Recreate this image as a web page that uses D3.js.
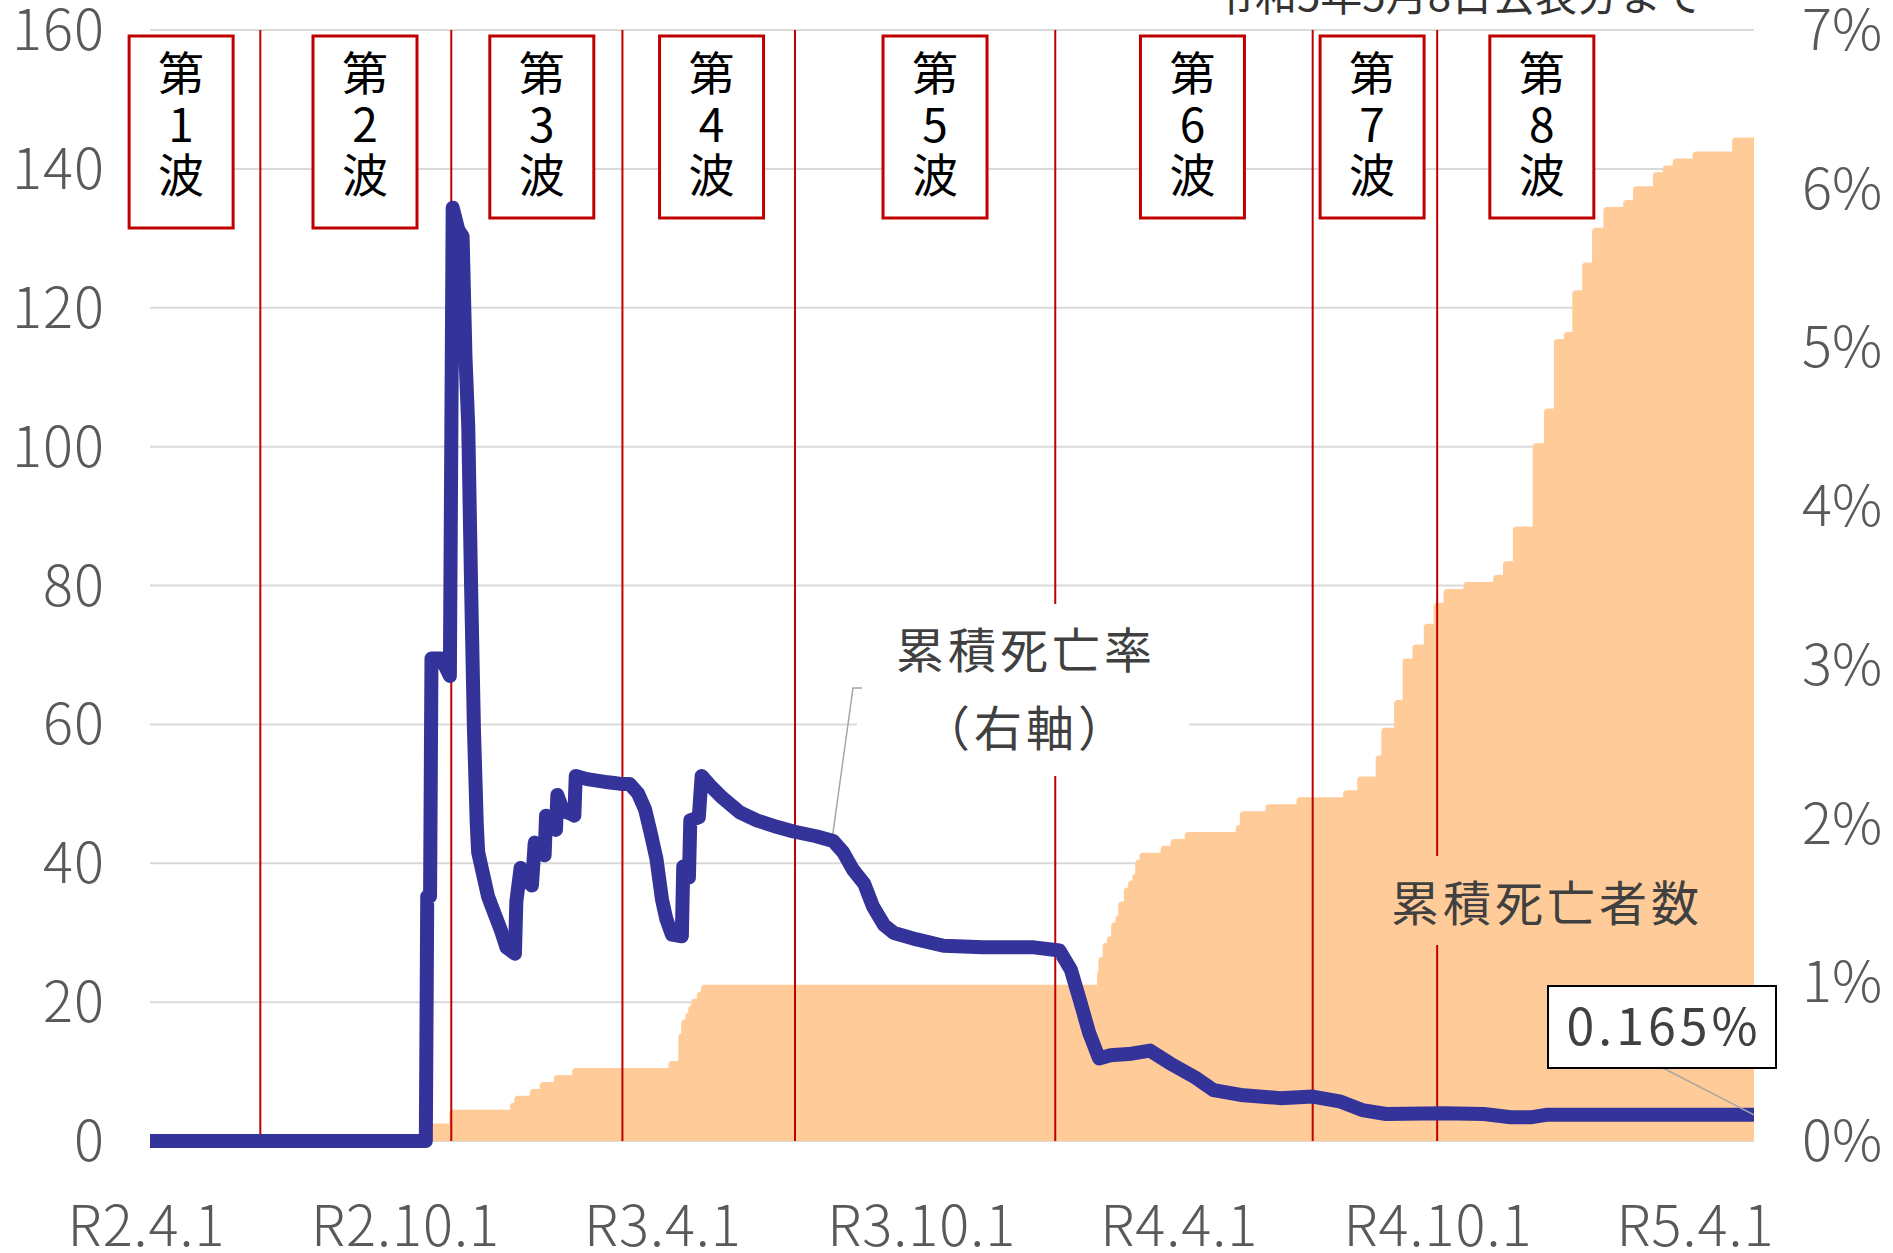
<!DOCTYPE html>
<html lang="ja">
<head>
<meta charset="utf-8">
<title>累積死亡者数と累積死亡率</title>
<script src="https://cdn.jsdelivr.net/npm/d3@7"></script>
<style>
  html, body { margin: 0; padding: 0; background: #fff; }
  svg { display: block; font-family: "Noto Sans CJK JP", "Noto Sans", sans-serif; }
</style>
</head>
<body>
<svg id="chart" width="1893" height="1253"></svg>
<script>
// Data
// 累積死亡者数 (left axis) - step changes
const deathDates = [
  "2020-04-02", "2020-10-15", "2020-11-02", "2020-12-15", "2020-12-18", "2020-12-29",
  "2021-01-05", "2021-01-15", "2021-01-28", "2021-04-06", "2021-04-13", "2021-04-15",
  "2021-04-18", "2021-04-20", "2021-04-22", "2021-04-26", "2021-04-29", "2022-02-03",
  "2022-02-04", "2022-02-07", "2022-02-10", "2022-02-13", "2022-02-16", "2022-02-18",
  "2022-02-22", "2022-02-25", "2022-02-28", "2022-03-02", "2022-03-05", "2022-03-20",
  "2022-03-27", "2022-04-06", "2022-05-12", "2022-05-15", "2022-06-02", "2022-06-24",
  "2022-07-27", "2022-08-06", "2022-08-19", "2022-08-23", "2022-09-01", "2022-09-07",
  "2022-09-14", "2022-09-22", "2022-09-29", "2022-10-06", "2022-10-20", "2022-11-10",
  "2022-11-17", "2022-11-24", "2022-12-08", "2022-12-16", "2022-12-23", "2022-12-30",
  "2023-01-05", "2023-01-12", "2023-01-19", "2023-01-27", "2023-02-10", "2023-02-17",
  "2023-03-03", "2023-03-10", "2023-03-17", "2023-03-31", "2023-04-28", "2023-05-11"
];
const deathValues = [
  0, 2, 4, 5, 6, 7,
  8, 9, 10, 11, 15, 17,
  18, 19, 20, 21, 22, 24,
  26, 28, 29, 31, 32, 34,
  36, 37, 38, 40, 41, 42,
  43, 44, 45, 47, 48, 49,
  50, 52, 55, 59, 63, 69,
  71, 74, 77, 79, 80, 81,
  83, 88, 100, 105, 115, 116,
  122, 126, 131, 134, 135, 137,
  139, 140, 141, 142, 144, 144
];

// 累積死亡率 (right axis, %)
const rateDates = [
  "2020-04-02", "2020-10-14", "2020-10-15", "2020-10-17", "2020-10-18", "2020-10-25",
  "2020-10-31", "2020-11-02", "2020-11-06", "2020-11-09", "2020-11-11", "2020-11-13",
  "2020-11-15", "2020-11-17", "2020-11-19", "2020-11-20", "2020-11-23", "2020-11-27",
  "2020-11-30", "2020-12-06", "2020-12-10", "2020-12-16", "2020-12-17", "2020-12-20",
  "2020-12-23", "2020-12-28", "2020-12-30", "2021-01-03", "2021-01-06", "2021-01-07",
  "2021-01-11", "2021-01-14", "2021-01-15", "2021-01-19", "2021-01-25", "2021-01-27",
  "2021-01-28", "2021-02-05", "2021-02-20", "2021-03-01", "2021-03-07", "2021-03-13",
  "2021-03-18", "2021-03-22", "2021-03-26", "2021-03-30", "2021-04-02", "2021-04-06",
  "2021-04-13", "2021-04-14", "2021-04-18", "2021-04-19", "2021-04-25", "2021-04-27",
  "2021-05-04", "2021-05-12", "2021-05-24", "2021-06-05", "2021-06-17", "2021-07-01",
  "2021-07-17", "2021-07-29", "2021-08-05", "2021-08-12", "2021-08-20", "2021-08-26",
  "2021-09-03", "2021-09-10", "2021-09-26", "2021-10-15", "2021-11-12", "2021-12-18",
  "2022-01-05", "2022-01-13", "2022-01-19", "2022-01-26", "2022-02-02", "2022-02-10",
  "2022-02-25", "2022-03-10", "2022-03-24", "2022-04-11", "2022-04-24", "2022-05-13",
  "2022-06-10", "2022-07-03", "2022-07-22", "2022-08-07", "2022-08-24", "2022-10-03",
  "2022-11-01", "2022-11-20", "2022-12-05", "2022-12-15", "2023-01-15", "2023-05-11"
];
const rateValues = [
  0, 0, 1.54, 1.54, 3.04, 3.04,
  2.93, 5.88, 5.74, 5.70, 4.95, 4.5,
  3.5, 2.6, 2.0, 1.82, 1.70, 1.54,
  1.47, 1.33, 1.22, 1.18, 1.51, 1.72,
  1.66, 1.61, 1.88, 1.82, 1.80, 2.05,
  1.98, 1.96, 2.18, 2.08, 2.06, 2.05,
  2.30, 2.28, 2.26, 2.25, 2.25, 2.19,
  2.09, 1.94, 1.78, 1.52, 1.40, 1.30,
  1.29, 1.73, 1.66, 2.02, 2.04, 2.30,
  2.23, 2.16, 2.07, 2.02, 1.985, 1.95,
  1.92, 1.89, 1.82, 1.71, 1.62, 1.48,
  1.36, 1.31, 1.27, 1.23, 1.22, 1.22,
  1.20, 1.08, 0.90, 0.68, 0.52, 0.54,
  0.55, 0.57, 0.49, 0.40, 0.32, 0.29,
  0.27, 0.28, 0.25, 0.195, 0.17, 0.175,
  0.17, 0.15, 0.15, 0.165, 0.165, 0.165
];

// wave boundaries (red lines) and wave label positions
const waveBoundaries = ["2020-06-19", "2020-11-01", "2021-03-02", "2021-07-02", "2022-01-02", "2022-07-03", "2022-09-29"];
const waveNumbers = ["1", "2", "3", "4", "5", "6", "7", "8"];
const waveLabelDates = ["2020-04-24", "2020-09-01", "2021-01-04", "2021-05-04", "2021-10-09", "2022-04-09", "2022-08-14", "2022-12-12"];

const xTickDates = ["2020-04-01", "2020-10-01", "2021-04-01", "2021-10-01", "2022-04-01", "2022-10-01", "2023-04-01"];
const xTickLabels = ["R2.4.1", "R2.10.1", "R3.4.1", "R3.10.1", "R4.4.1", "R4.10.1", "R5.4.1"];
const leftTicks = [0, 20, 40, 60, 80, 100, 120, 140, 160];
const rightTicks = [0, 1, 2, 3, 4, 5, 6, 7];
const lastRateLabel = "0.165%";

// Layout
const plotLeft = 150, plotRight = 1754, plotTop = 30, plotBottom = 1141;
const parse = d3.utcParse("%Y-%m-%d");
const svg = d3.select("#chart");

const x = d3.scaleUtc()
    .domain([parse("2020-04-02"), parse("2023-05-11")])
    .range([plotLeft, plotRight]);
const yL = d3.scaleLinear().domain([0, 160]).range([plotBottom, plotTop]);
const yR = d3.scaleLinear().domain([0, 7]).range([plotBottom, plotTop]);

const deaths = deathDates.map((d, i) => ({ date: parse(d), v: deathValues[i] }));
const rates = rateDates.map((d, i) => ({ date: parse(d), v: rateValues[i] }));

// gridlines
svg.append("g").selectAll("line")
    .data(leftTicks)
    .join("line")
    .attr("x1", plotLeft).attr("x2", plotRight)
    .attr("y1", d => yL(d)).attr("y2", d => yL(d))
    .attr("stroke", "#d9d9d9").attr("stroke-width", 2);

// cumulative deaths area (with same-colour border like the original)
svg.append("path")
    .datum(deaths)
    .attr("fill", "#FFCC99")
    .attr("d", d3.area().curve(d3.curveStepAfter)
        .x(d => x(d.date)).y0(yL(0)).y1(d => yL(d.v)));
svg.append("path")
    .datum(deaths.filter(d => d.v > 0))
    .attr("fill", "none")
    .attr("stroke", "#FFCC99")
    .attr("stroke-width", 7)
    .attr("stroke-linejoin", "round")
    .attr("d", d3.line().curve(d3.curveStepAfter).x(d => x(d.date)).y(d => yL(d.v)));

// wave boundary lines
svg.append("g").selectAll("line")
    .data(waveBoundaries)
    .join("line")
    .attr("x1", d => x(parse(d))).attr("x2", d => x(parse(d)))
    .attr("y1", plotTop).attr("y2", plotBottom)
    .attr("stroke", "#C00000").attr("stroke-width", 2);

// label "累積死亡率（右軸）" with white background
svg.append("rect").attr("x", 857).attr("y", 604).attr("width", 332).attr("height", 172).attr("fill", "#fff");
svg.append("polyline")
    .attr("points", "862,688 853,688 832,840")
    .attr("fill", "none").attr("stroke", "#a6a6a6").attr("stroke-width", 1.5);
const rateLabel = svg.append("text")
    .attr("text-anchor", "middle").attr("fill", "#404040")
    .attr("font-size", 48).attr("letter-spacing", 4);
rateLabel.append("tspan").attr("x", 1026).attr("y", 668).text("累積死亡率");
rateLabel.append("tspan").attr("x", 1026).attr("y", 746).text("（右軸）");

// label "累積死亡者数"
svg.append("rect").attr("x", 1380).attr("y", 856).attr("width", 330).attr("height", 89).attr("fill", "#FFCC99");
svg.append("text")
    .attr("x", 1547).attr("y", 921)
    .attr("text-anchor", "middle").attr("fill", "#404040")
    .attr("font-size", 48).attr("letter-spacing", 4)
    .text("累積死亡者数");

// cumulative death rate line
svg.append("path")
    .datum(rates)
    .attr("fill", "none")
    .attr("stroke", "#333399")
    .attr("stroke-width", 14)
    .attr("stroke-linejoin", "round")
    .attr("d", d3.line().x(d => x(d.date)).y(d => yR(d.v)));

// last value label
const last = rates[rates.length - 1];
svg.append("line")
    .attr("x1", 1663).attr("y1", 1068)
    .attr("x2", x(last.date)).attr("y2", yR(last.v))
    .attr("stroke", "#a6a6a6").attr("stroke-width", 1.5);
svg.append("rect").attr("x", 1548).attr("y", 986).attr("width", 228).attr("height", 82)
    .attr("fill", "#fff").attr("stroke", "#000").attr("stroke-width", 2);
svg.append("text")
    .attr("x", 1664).attr("y", 1045)
    .attr("text-anchor", "middle").attr("fill", "#404040")
    .attr("font-size", 50).attr("letter-spacing", 4)
    .text(lastRateLabel);

// wave label boxes
const waves = svg.append("g").selectAll("g")
    .data(waveNumbers)
    .join("g")
    .attr("transform", (d, i) => `translate(${x(parse(waveLabelDates[i]))},0)`);
waves.append("rect")
    .attr("x", -52).attr("y", 36).attr("width", 104)
    .attr("height", (d, i) => i < 2 ? 192 : 182)
    .attr("fill", "#fff").attr("stroke", "#C00000").attr("stroke-width", 3);
waves.append("text")
    .attr("text-anchor", "middle").attr("font-size", 46).attr("fill", "#000")
    .selectAll("tspan")
    .data(d => ["第", d, "波"])
    .join("tspan")
    .attr("x", 0)
    .attr("y", (d, i) => [90, 142, 192][i])
    .text(d => d);

// axes labels
svg.append("g").selectAll("text")
    .data(leftTicks)
    .join("text")
    .attr("x", 105).attr("y", d => yL(d) + 20)
    .attr("text-anchor", "end").attr("fill", "#595959")
    .attr("font-size", 56).attr("font-weight", 300).attr("letter-spacing", 1)
    .text(d => d);
svg.append("g").selectAll("text")
    .data(rightTicks)
    .join("text")
    .attr("x", 1802).attr("y", d => yR(d) + 20)
    .attr("text-anchor", "start").attr("fill", "#595959")
    .attr("font-size", 56).attr("font-weight", 300)
    .text(d => d + "%");
svg.append("g").selectAll("text")
    .data(xTickDates)
    .join("text")
    .attr("x", d => x(parse(d)) - 2).attr("y", 1246)
    .attr("text-anchor", "middle").attr("fill", "#595959")
    .attr("font-size", 56).attr("font-weight", 300).attr("letter-spacing", 1)
    .text((d, i) => xTickLabels[i]);

// note at the top
svg.append("text")
    .attr("x", 1458).attr("y", 11)
    .attr("text-anchor", "middle").attr("fill", "#333")
    .attr("font-size", 42)
    .text("令和5年5月8日公表分まで");
</script>
</body>
</html>
